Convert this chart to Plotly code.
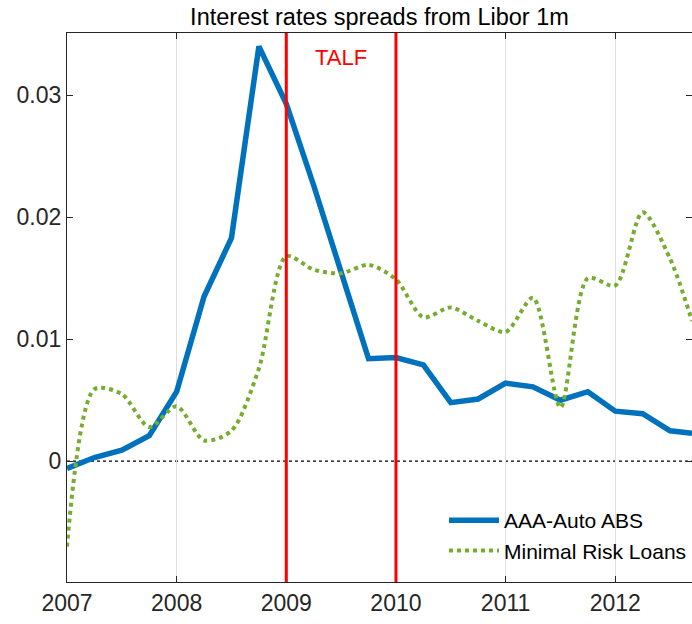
import plotly.graph_objects as go

# Quarterly observation dates (decimal years)
dates = [2007.0, 2007.25, 2007.5, 2007.75, 2008.0, 2008.25, 2008.5, 2008.75,
         2009.0, 2009.25, 2009.5, 2009.75, 2010.0, 2010.25, 2010.5, 2010.75,
         2011.0, 2011.25, 2011.5, 2011.75, 2012.0, 2012.25, 2012.5, 2012.7]

# Spread over 1-month Libor
auto_abs = [-0.0006, 0.0003, 0.0009, 0.0021, 0.0057, 0.0135, 0.0183, 0.0340,
            0.0293, 0.0226, 0.0155, 0.0084, 0.0085, 0.0079, 0.0048, 0.0051,
            0.0064, 0.0061, 0.0050, 0.0057, 0.0041, 0.0039, 0.0025, 0.0023]
minimal_risk = [-0.0070, 0.0059, 0.0055, 0.0028, 0.0045, 0.0017, 0.0025, 0.0076,
                0.0168, 0.0157, 0.0154, 0.0161, 0.0149, 0.0118, 0.0126, 0.0115,
                0.0106, 0.0134, 0.0044, 0.0150, 0.0144, 0.0204, 0.0166, 0.0115]

talf_start, talf_end = 2009, 2010
x_ticks = [2007, 2008, 2009, 2010, 2011, 2012]
y_ticks = [0, 0.01, 0.02, 0.03]
y_tick_text = ["0", "0.01", "0.02", "0.03"]

axis_color = "#262626"
font_family = "Liberation Sans, Arial, sans-serif"

fig = go.Figure()

fig.add_trace(go.Scatter(
    x=dates, y=auto_abs, mode="lines", name="AAA-Auto ABS",
    line=dict(color="#0072BD", width=5.5),
))
fig.add_trace(go.Scatter(
    x=dates, y=minimal_risk, mode="lines", name="Minimal Risk Loans",
    line=dict(color="#77AC30", width=4, dash="dot", shape="spline", smoothing=0.8),
))

# TALF program window
for xv in (talf_start, talf_end):
    fig.add_shape(type="line", x0=xv, x1=xv, y0=0, y1=1, yref="paper",
                  line=dict(color="#FF0000", width=3), layer="above")

# zero reference line
fig.add_shape(type="line", x0=0, x1=1, xref="paper", y0=0, y1=0,
              line=dict(color="black", width=1.2, dash="dot"), layer="below")

fig.add_annotation(x=(talf_start + talf_end) / 2, y=0.0331, text="TALF",
                   showarrow=False, font=dict(color="#FF0000", size=22, family=font_family))

fig.update_layout(
    width=692, height=624,
    margin=dict(l=67, r=0, t=33, b=42),
    paper_bgcolor="white", plot_bgcolor="white",
    font=dict(family=font_family, color=axis_color),
    title=dict(text="Interest rates spreads from Libor 1m", x=0.5, xref="paper",
               xanchor="center", y=1, yref="paper", yanchor="bottom", pad=dict(b=8),
               font=dict(size=23.5, color="black", family=font_family)),
    showlegend=True,
    legend=dict(x=1.0, xanchor="right", y=0.02, yanchor="bottom",
                bgcolor="rgba(255,255,255,0)",
                font=dict(size=21, color="black", family=font_family),
                itemwidth=50, tracegroupgap=0),
)

fig.update_xaxes(
    range=[2007, 2012.7], tickvals=x_ticks, ticktext=[str(t) for t in x_ticks],
    showgrid=True, gridcolor="#DFDFDF", gridwidth=1, zeroline=False,
    showline=True, linecolor=axis_color, linewidth=1.2, mirror="ticks",
    ticks="inside", ticklen=6, tickcolor=axis_color,
    tickfont=dict(size=23, color=axis_color, family=font_family),
)
fig.update_yaxes(
    range=[-0.0099, 0.0351], tickvals=y_ticks, ticktext=y_tick_text,
    showgrid=False, zeroline=False,
    showline=True, linecolor=axis_color, linewidth=1.2, mirror="ticks",
    ticks="inside", ticklen=6, tickcolor=axis_color,
    tickfont=dict(size=23, color=axis_color, family=font_family),
)

fig.write_html("out.html")
